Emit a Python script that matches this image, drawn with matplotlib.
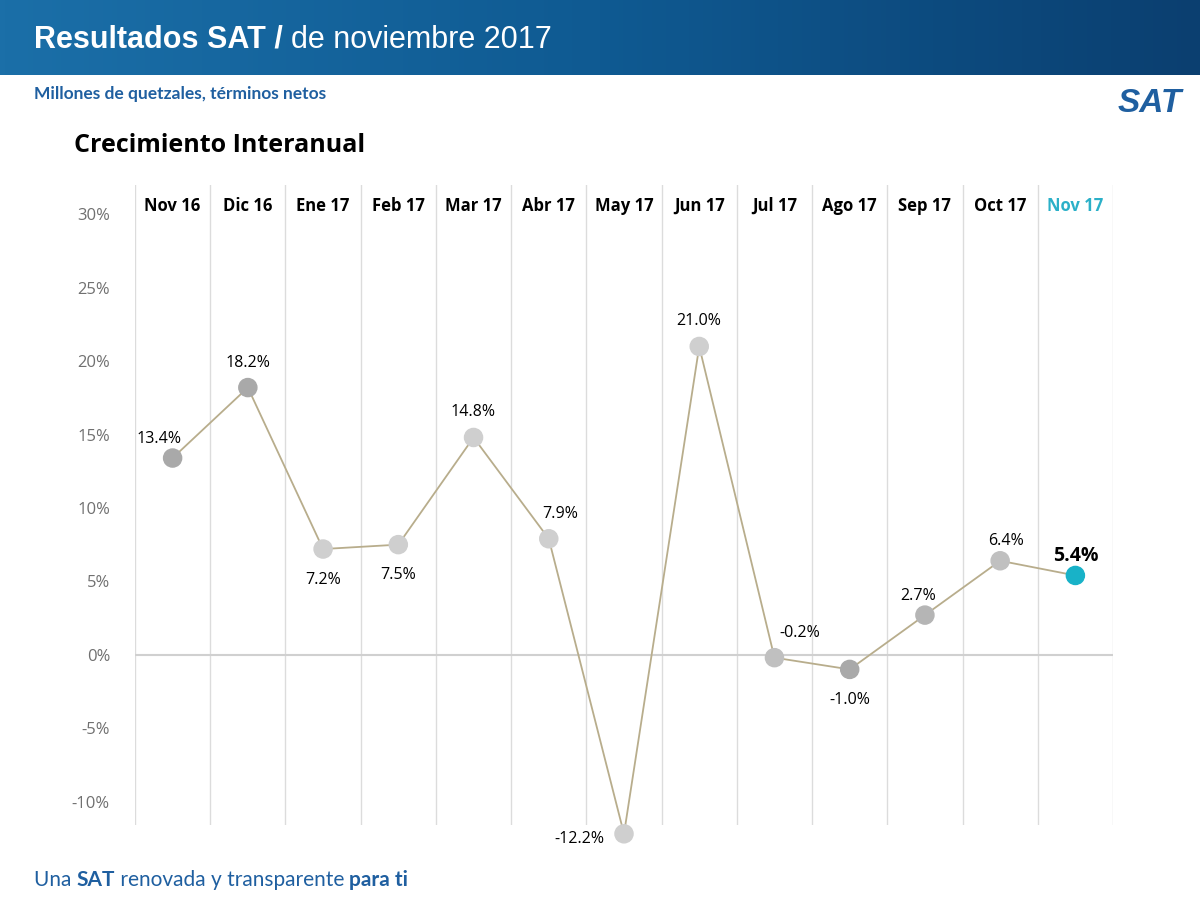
import numpy as np
import matplotlib
matplotlib.use("Agg")
import matplotlib.pyplot as plt

# ── data ──
months = ["Nov 16", "Dic 16", "Ene 17", "Feb 17", "Mar 17", "Abr 17", "May 17",
          "Jun 17", "Jul 17", "Ago 17", "Sep 17", "Oct 17", "Nov 17"]
growth = [13.4, 18.2, 7.2, 7.5, 14.8, 7.9, -12.2, 21.0, -0.2, -1.0, 2.7, 6.4, 5.4]
yticks = [-10, -5, 0, 5, 10, 15, 20, 25, 30]
# label offsets (points)
offsets = [(-10, 14), (0, 18), (0, -22), (0, -22), (0, 18), (8, 18), (-32, -4),
           (0, 18), (18, 18), (0, -22), (-5, 14), (4, 14), (0, 14)]

plt.rcParams["font.family"] = "Lato"
fig = plt.figure(figsize=(12, 9.01), dpi=100)
renderer = fig.canvas.get_renderer()


def text_run(x, y, parts, **kw):
    # draw consecutive text pieces, each starting where the previous one ended
    for s, extra in parts:
        t = fig.text(x, y, s, va="center", **kw, **extra)
        bb = t.get_window_extent(renderer)
        x += bb.width / fig.bbox.width


# ── header band ──
hdr = fig.add_axes([0, 1 - 75 / 901, 1, 75 / 901])
grad = np.linspace(0, 1, 256)[None, :]
hdr.imshow(grad, aspect="auto", cmap=matplotlib.colors.LinearSegmentedColormap.from_list(
    "h", ["#1b6fa8", "#0f5a92", "#0b3f70"]), extent=[0, 1, 0, 1])
hdr.axis("off")
text_run(0.028, 1 - 40 / 901, [("Resultados SAT / ", {"fontweight": "bold"}),
                               ("de noviembre 2017", {})],
         color="white", fontsize=22, family="Liberation Sans")
fig.text(0.028, 1 - 94 / 901, "Millones de quetzales, términos netos", color="#1f5fa0",
         fontsize=12.5, fontweight="bold", va="center")
fig.text(0.062, 1 - 145 / 901, "Crecimiento Interanual", color="black",
         fontsize=18, fontweight="bold", family="Open Sans", va="center")
fig.text(0.985, 1 - 103 / 901, "SAT", color="#1f5fa0", fontsize=24, fontweight="bold",
         style="italic", ha="right", va="center", family="Liberation Sans")
text_run(0.028, 1 - 880 / 901, [("Una ", {}), ("SAT", {"fontweight": "bold"}),
                                (" renovada y transparente ", {}),
                                ("para ti", {"fontweight": "bold"})],
         color="#1f5fa0", fontsize=15)

# ── chart ──
ax = fig.add_axes([135 / 1200, 1 - 825 / 901, 978 / 1200, 640 / 901])
n = len(months)
x = np.arange(n)
ax.set_xlim(-0.5, n - 0.5)
ax.set_ylim(-11.6, 32)
for b in np.arange(-0.5, n, 1):
    ax.axvline(b, color="#dcdcdc", lw=1)
ax.axhline(0, color="#d0d0d0", lw=1.5)
for s in ax.spines.values():
    s.set_visible(False)
ax.set_xticks([])
ax.set_yticks(yticks)
ax.set_yticklabels([f"{v}%" for v in yticks], color="#707070", fontsize=12, family="Open Sans")
ax.tick_params(axis="y", length=0, pad=18)

ax.plot(x, growth, color="#b8ad8c", lw=1.3, zorder=2, clip_on=False)
colors = ["#a9a9a9", "#a9a9a9", "#cfcfcf", "#cfcfcf", "#cfcfcf", "#cfcfcf", "#cfcfcf",
          "#cfcfcf", "#c0c0c0", "#a9a9a9", "#b5b5b5", "#c0c0c0", "#18b2c8"]
ax.scatter(x, growth, s=170, c=colors, zorder=3, clip_on=False)

for i, (m, v, off) in enumerate(zip(months, growth, offsets)):
    last = i == n - 1
    ax.text(i, 30.6, m, ha="center", va="center", fontsize=12, fontweight="bold",
            color="#2bb0c8" if last else "black", family="Open Sans")
    ax.annotate(f"{v:.1f}%", (i, v), xytext=off, textcoords="offset points",
                ha="center", va="center", fontsize=14 if last else 11.5,
                fontweight="bold" if last else "normal", color="black",
                family="Open Sans", annotation_clip=False)

fig.savefig("out.png", dpi=100)
